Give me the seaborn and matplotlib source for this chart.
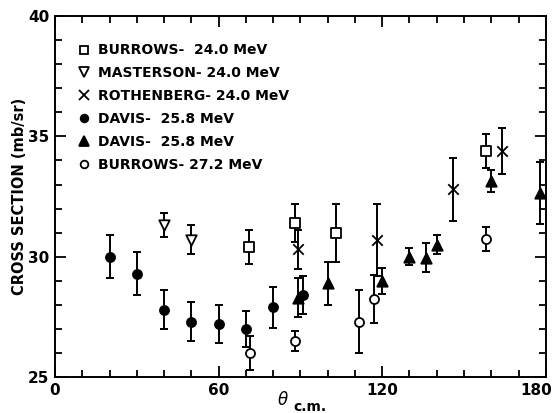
"""
Elastic cross section vs c.m. angle, several experiments.
"""

import matplotlib
matplotlib.use("Agg")
import matplotlib.pyplot as plt
import numpy as np
import pandas as pd
import seaborn as sns
from matplotlib.ticker import MultipleLocator

# Burrows - 24.0 MeV (open squares)
burrows24_theta = [71, 88, 103, 158]
burrows24_xs = [30.4, 31.4, 31.0, 34.4]
burrows24_err = [0.7, 0.8, 1.2, 0.7]

# Masterson - 24.0 MeV (open down triangles)
masterson_theta = [40, 50]
masterson_xs = [31.3, 30.7]
masterson_err = [0.5, 0.6]

# Rothenberg - 24.0 MeV (crosses)
rothenberg_theta = [89, 118, 146, 164]
rothenberg_xs = [30.3, 30.7, 32.8, 34.4]
rothenberg_err = [0.8, 1.5, 1.3, 0.95]

# Davis - 25.8 MeV (filled circles)
davis_dot_theta = [20, 30, 40, 50, 60, 70, 80, 91]
davis_dot_xs = [30.0, 29.3, 27.8, 27.3, 27.2, 27.0, 27.9, 28.4]
davis_dot_err = [0.9, 0.9, 0.8, 0.8, 0.8, 0.75, 0.85, 0.8]

# Davis - 25.8 MeV (filled triangles)
davis_tri_theta = [89, 100, 120, 130, 136, 140, 160, 178]
davis_tri_xs = [28.3, 28.9, 29.0, 30.0, 29.95, 30.5, 33.15, 32.65]
davis_tri_err = [0.8, 0.9, 0.55, 0.35, 0.6, 0.4, 0.45, 1.3]

# Burrows - 27.2 MeV (open circles)
burrows27_theta = [71.5, 88, 111.5, 117, 158]
burrows27_xs = [26.0, 26.5, 27.3, 28.25, 30.75]
burrows27_err = [0.7, 0.4, 1.3, 1.0, 0.5]

x_ticks = [0, 60, 120, 180]
x_ticklabels = ["0", "60", "120", "180"]

series = [
    ("BURROWS-  24.0 MeV", burrows24_theta, burrows24_xs, burrows24_err, "s", "white", 6.5, 5.5),
    ("MASTERSON- 24.0 MeV", masterson_theta, masterson_xs, masterson_err, "v", "white", 7.5, 6.5),
    ("ROTHENBERG- 24.0 MeV", rothenberg_theta, rothenberg_xs, rothenberg_err, "x", "black", 7.5, 6.5),
    ("DAVIS-  25.8 MeV", davis_dot_theta, davis_dot_xs, davis_dot_err, "o", "black", 6.5, 5.5),
    ("DAVIS-  25.8 MeV ", davis_tri_theta, davis_tri_xs, davis_tri_err, "^", "black", 7.5, 6.5),
    ("BURROWS- 27.2 MeV", burrows27_theta, burrows27_xs, burrows27_err, "o", "white", 6.5, 5.5),
]

sns.set_style("ticks")
plt.rcParams["font.family"] = ["DejaVu Sans"]
plt.rcParams["text.color"] = "black"
plt.rcParams["axes.labelcolor"] = "black"
plt.rcParams["xtick.color"] = "black"
plt.rcParams["ytick.color"] = "black"

fig = plt.figure(figsize=(5.53, 4.13), dpi=100)
ax = fig.add_axes([0.0995, 0.0872, 0.8875, 0.8738])

handles = []
for label, th, xs, err, mk, fc, ms, leg_ms in series:
    df = pd.DataFrame({"theta": th, "xs": xs, "err": err})
    ax.errorbar(df["theta"], df["xs"], yerr=df["err"], fmt="none",
                ecolor="black", elinewidth=1.4, capsize=2.6, capthick=1.4, zorder=2)
    sns.scatterplot(data=df, x="theta", y="xs", marker=mk, s=ms ** 2,
                    color=fc, edgecolor="black", linewidth=1.3, ax=ax, zorder=3)
    h, = ax.plot([], [], linestyle="none", marker=mk, markersize=leg_ms,
                 markerfacecolor=fc, markeredgecolor="black", markeredgewidth=1.3,
                 color="black")
    handles.append((h, label.strip()))

ax.set_xlim(0, 180)
ax.set_ylim(25, 40)
ax.set_xticks(x_ticks)
# last label is drawn by hand, pulled in from the figure edge
ax.set_xticklabels(x_ticklabels[:-1] + [""])
ax.xaxis.set_minor_locator(MultipleLocator(10))
ax.yaxis.set_major_locator(MultipleLocator(5))
ax.yaxis.set_minor_locator(MultipleLocator(1))
ax.tick_params(which="both", direction="in", top=True, right=True,
               width=1.3, labelsize=11, pad=4)
ax.tick_params(which="major", length=8)
ax.tick_params(which="minor", length=5)
for sp in ax.spines.values():
    sp.set_linewidth(1.4)
    sp.set_color("black")
for t in ax.get_xticklabels() + ax.get_yticklabels():
    t.set_fontweight("bold")
ax.annotate(x_ticklabels[-1], xy=(x_ticks[-1], 25), xytext=(-7, -4),
            textcoords="offset points", ha="center", va="top",
            fontsize=11, fontweight="bold", annotation_clip=False)

ax.set_xlabel("")
fig.text(283 / 553, 1 - 405 / 413, r"$\theta$", fontsize=12,
         ha="center", va="baseline")
fig.text(293 / 553, 1 - 411 / 413, "c.m.", fontsize=10, fontweight="bold",
         ha="left", va="baseline")
ax.set_ylabel("CROSS SECTION (mb/sr)", fontsize=10.5, fontweight="bold", labelpad=0.5)

leg = ax.legend([h for h, _ in handles], [l for _, l in handles], loc="upper left",
                frameon=False, fontsize=10, handlelength=0.8, handletextpad=0.6,
                labelspacing=0.64, borderaxespad=0.4, bbox_to_anchor=(0.025, 0.955))
for t in leg.get_texts():
    t.set_fontweight("bold")

fig.savefig("out.png", dpi=100)
